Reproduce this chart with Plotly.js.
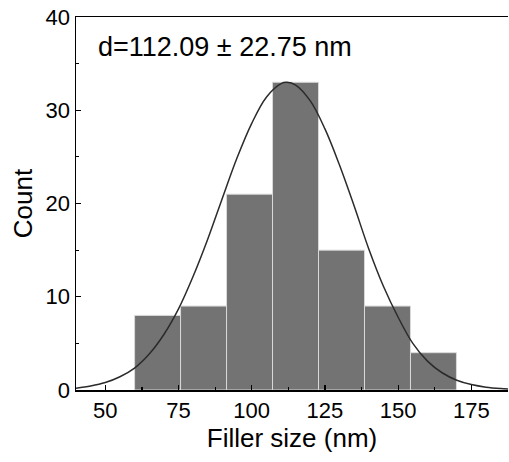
<!DOCTYPE html>
<html>
<head>
<meta charset="utf-8">
<script src="https://cdn.plot.ly/plotly-3.0.1.min.js"></script>
<style>html,body{margin:0;padding:0;overflow:hidden;background:#fff}</style>
</head>
<body>
<div id="chart" style="width:509px;height:462px"></div>
<script>
// Histogram bins (nm) and counts
const binEdges = [60, 75.7, 91.4, 107.1, 122.8, 138.5, 154.2, 169.9];
const counts = [8, 9, 21, 33, 15, 9, 4];

// Fitted distribution curve
const fitX = [40, 45, 50, 55, 60, 65, 70, 75, 80, 85, 90, 95, 100, 105, 110, 112, 115, 120, 125, 130, 135, 140, 145, 150, 155, 160, 165, 170, 175, 180, 185, 190];
const fitY = [0.2, 0.43, 0.8, 1.42, 2.35, 3.85, 5.95, 8.7, 12.2, 16.2, 20.6, 24.9, 28.6, 31.4, 32.85, 33.0, 32.7, 31.0, 28.0, 24.1, 19.7, 15.1, 11.1, 7.8, 5.0, 3.1, 1.85, 1.05, 0.58, 0.3, 0.15, 0.07];

const annotationText = 'd=112.09 \u00b1 22.75 nm';
const xTitle = 'Filler size (nm)';
const yTitle = 'Count';

const centers = counts.map((c, i) => (binEdges[i] + binEdges[i + 1]) / 2);
const widths = counts.map((c, i) => binEdges[i + 1] - binEdges[i]);

const FONT = '"Liberation Sans", Arial, Helvetica, sans-serif';

const traces = [
  {
    type: 'bar',
    x: centers,
    y: counts,
    width: widths,
    marker: {color: '#737373', line: {color: '#d9d9d9', width: 1}},
    hoverinfo: 'skip'
  },
  {
    type: 'scatter',
    mode: 'lines',
    x: fitX,
    y: fitY,
    line: {color: '#2b2b2b', width: 1.5, shape: 'spline'},
    hoverinfo: 'skip'
  }
];

const layout = {
  width: 509,
  height: 462,
  margin: {l: 76, r: 1, t: 17, b: 72, pad: 0},
  paper_bgcolor: '#ffffff',
  plot_bgcolor: '#ffffff',
  showlegend: false,
  bargap: 0,
  font: {family: FONT, color: '#000000', size: 22},
  xaxis: {
    range: [40, 187.5],
    tickvals: [50, 75, 100, 125, 150, 175],
    ticks: 'inside',
    ticklen: 5,
    tickwidth: 1.3,
    tickcolor: '#000',
    minor: {ticks: 'inside', ticklen: 3, tickwidth: 1.2, tickcolor: '#000', dtick: 12.5, tick0: 0},
    showline: true,
    linecolor: '#000',
    linewidth: 1.5,
    mirror: true,
    showgrid: false,
    zeroline: false,
    tickfont: {family: FONT, size: 22, color: '#000'},
    title: {text: xTitle, font: {family: FONT, size: 26, color: '#000'}, standoff: 5}
  },
  yaxis: {
    range: [0, 40],
    tickvals: [0, 10, 20, 30, 40],
    ticks: 'inside',
    ticklen: 5,
    tickwidth: 1.3,
    tickcolor: '#000',
    minor: {ticks: 'inside', ticklen: 3, tickwidth: 1.2, tickcolor: '#000', dtick: 5, tick0: 0},
    showline: true,
    linecolor: '#000',
    linewidth: 1.5,
    showgrid: false,
    zeroline: false,
    tickfont: {family: FONT, size: 22, color: '#000'},
    title: {text: yTitle, font: {family: FONT, size: 26, color: '#000'}, standoff: 5}
  },
  annotations: [
    {
      text: annotationText,
      xref: 'paper', yref: 'paper',
      x: 0.046, y: 0.92,
      xanchor: 'left', yanchor: 'middle',
      showarrow: false,
      font: {family: FONT, size: 27, color: '#000'}
    }
  ]
};

Plotly.newPlot('chart', traces, layout, {staticPlot: true, displayModeBar: false});
</script>
</body>
</html>
